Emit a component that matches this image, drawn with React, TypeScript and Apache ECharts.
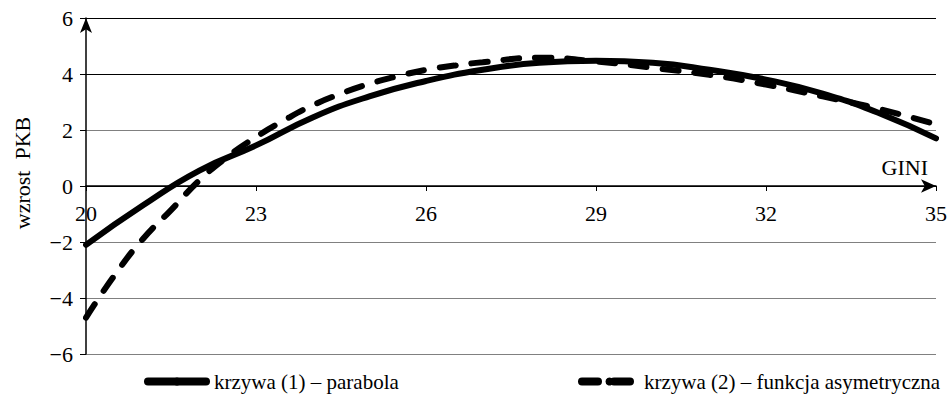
import React, { useEffect, useRef } from "react";
import * as echarts from "echarts";

const giniX1 = [20, 21, 22, 23, 24, 25, 26, 27, 28, 29, 30, 31, 32, 33, 34, 35];
const curve1 = [-2.1, -0.7, 0.55, 1.45, 2.45, 3.2, 3.75, 4.15, 4.4, 4.47, 4.4, 4.15, 3.8, 3.3, 2.6, 1.7];

const giniX2 = [20, 20.5, 21, 21.5, 22, 22.5, 23, 23.5, 24, 24.5, 25, 25.5, 26, 26.5, 27, 28, 29, 30, 31, 32, 33, 34, 35];
const curve2 = [-4.7, -3.2, -1.9, -0.86, 0.2, 1.05, 1.75, 2.35, 2.88, 3.3, 3.65, 3.92, 4.15, 4.3, 4.42, 4.58, 4.45, 4.22, 3.97, 3.62, 3.2, 2.75, 2.2];

const seriesNames = ["krzywa (1) – parabola", "krzywa (2) – funkcja asymetryczna"];
const xTitle = "GINI";
const yTitle = "wzrost  PKB";

const FONT = "'Liberation Serif', 'Times New Roman', serif";
const GRID = { left: 86, right: 16, top: 18, bottom: 48 };
const Y_MIN = -6;
const Y_MAX = 6;

export default function App() {
  const ref = useRef<HTMLDivElement>(null);
  useEffect(() => {
    document.body.style.margin = "0";
    const chart = echarts.init(ref.current!, null, { renderer: "svg" });
    const plotH = 402 - GRID.top - GRID.bottom;
    // place the x axis on y = 0 by shifting it up from the bottom edge of the grid
    const zeroOffset = -((0 - Y_MIN) / (Y_MAX - Y_MIN)) * plotH;
    chart.setOption({
      animation: false,
      backgroundColor: "#ffffff",
      textStyle: { fontFamily: FONT },
      grid: GRID,
      xAxis: {
        type: "value",
        position: "bottom",
        offset: zeroOffset,
        min: 20,
        max: 35,
        interval: 3,
        axisLine: {
          show: true,
          onZero: false,
          symbol: ["none", "arrow"],
          symbolSize: [10, 15],
          lineStyle: { color: "#000", width: 1.5 },
        },
        axisTick: { show: true, length: 5, lineStyle: { color: "#000" } },
        axisLabel: { color: "#000", fontSize: 22, fontFamily: FONT, margin: 16 },
        splitLine: { show: false },
      },
      yAxis: {
        type: "value",
        min: Y_MIN,
        max: Y_MAX,
        interval: 2,
        axisLine: {
          show: true,
          onZero: false,
          symbol: ["none", "arrow"],
          symbolSize: [9, 15],
          lineStyle: { color: "#000", width: 1.5 },
        },
        axisTick: { show: true, length: 6, lineStyle: { color: "#000" } },
        axisLabel: {
          color: "#000",
          fontSize: 22,
          fontFamily: FONT,
          margin: 13,
          formatter: (v: number) => (v < 0 ? "\u2212" + Math.abs(v) : String(v)),
        },
        splitLine: {
          show: true,
          lineStyle: {
            color: ["#808080", "#808080", "#808080", "#000", "#808080", "#000", "#000"],
            width: 1,
          },
        },
      },
      legend: [
        {
          data: [seriesNames[0]],
          left: 139,
          top: 366,
          itemWidth: 58,
          itemHeight: 10,
          itemGap: 0,
          textStyle: { color: "#000", fontSize: 21, fontFamily: FONT, padding: [0, 0, 0, 3] },
          lineStyle: { width: 8, cap: "round" },
        },
        {
          data: [seriesNames[1]],
          left: 573,
          top: 366,
          itemWidth: 55,
          itemHeight: 10,
          itemGap: 0,
          textStyle: { color: "#000", fontSize: 21, fontFamily: FONT, padding: [0, 0, 0, 2] },
          lineStyle: { width: 8, cap: "round" },
        },
      ],
      graphic: [
        {
          type: "text",
          x: 928,
          y: 167,
          style: {
            text: xTitle,
            fill: "#000",
            font: "22px " + FONT,
            align: "right",
            verticalAlign: "middle",
          },
        },
        {
          type: "text",
          x: 22,
          y: 173,
          rotation: Math.PI / 2,
          style: {
            text: yTitle,
            fill: "#000",
            font: "22px " + FONT,
            align: "center",
            verticalAlign: "middle",
          },
        },
      ],
      series: [
        {
          name: seriesNames[0],
          type: "line",
          smooth: true,
          symbol: "none",
          data: giniX1.map((x, i) => [x, curve1[i]]),
          lineStyle: { color: "#000", width: 6, cap: "round" },
          itemStyle: { color: "#000" },
        },
        {
          name: seriesNames[1],
          type: "line",
          smooth: true,
          symbol: "none",
          data: giniX2.map((x, i) => [x, curve2[i]]),
          lineStyle: { color: "#000", width: 6, type: [16, 16], cap: "round" },
          itemStyle: { color: "#000" },
        },
      ],
    });
    return () => chart.dispose();
  }, []);
  return <div ref={ref} style={{ width: 952, height: 402 }} />;
}
